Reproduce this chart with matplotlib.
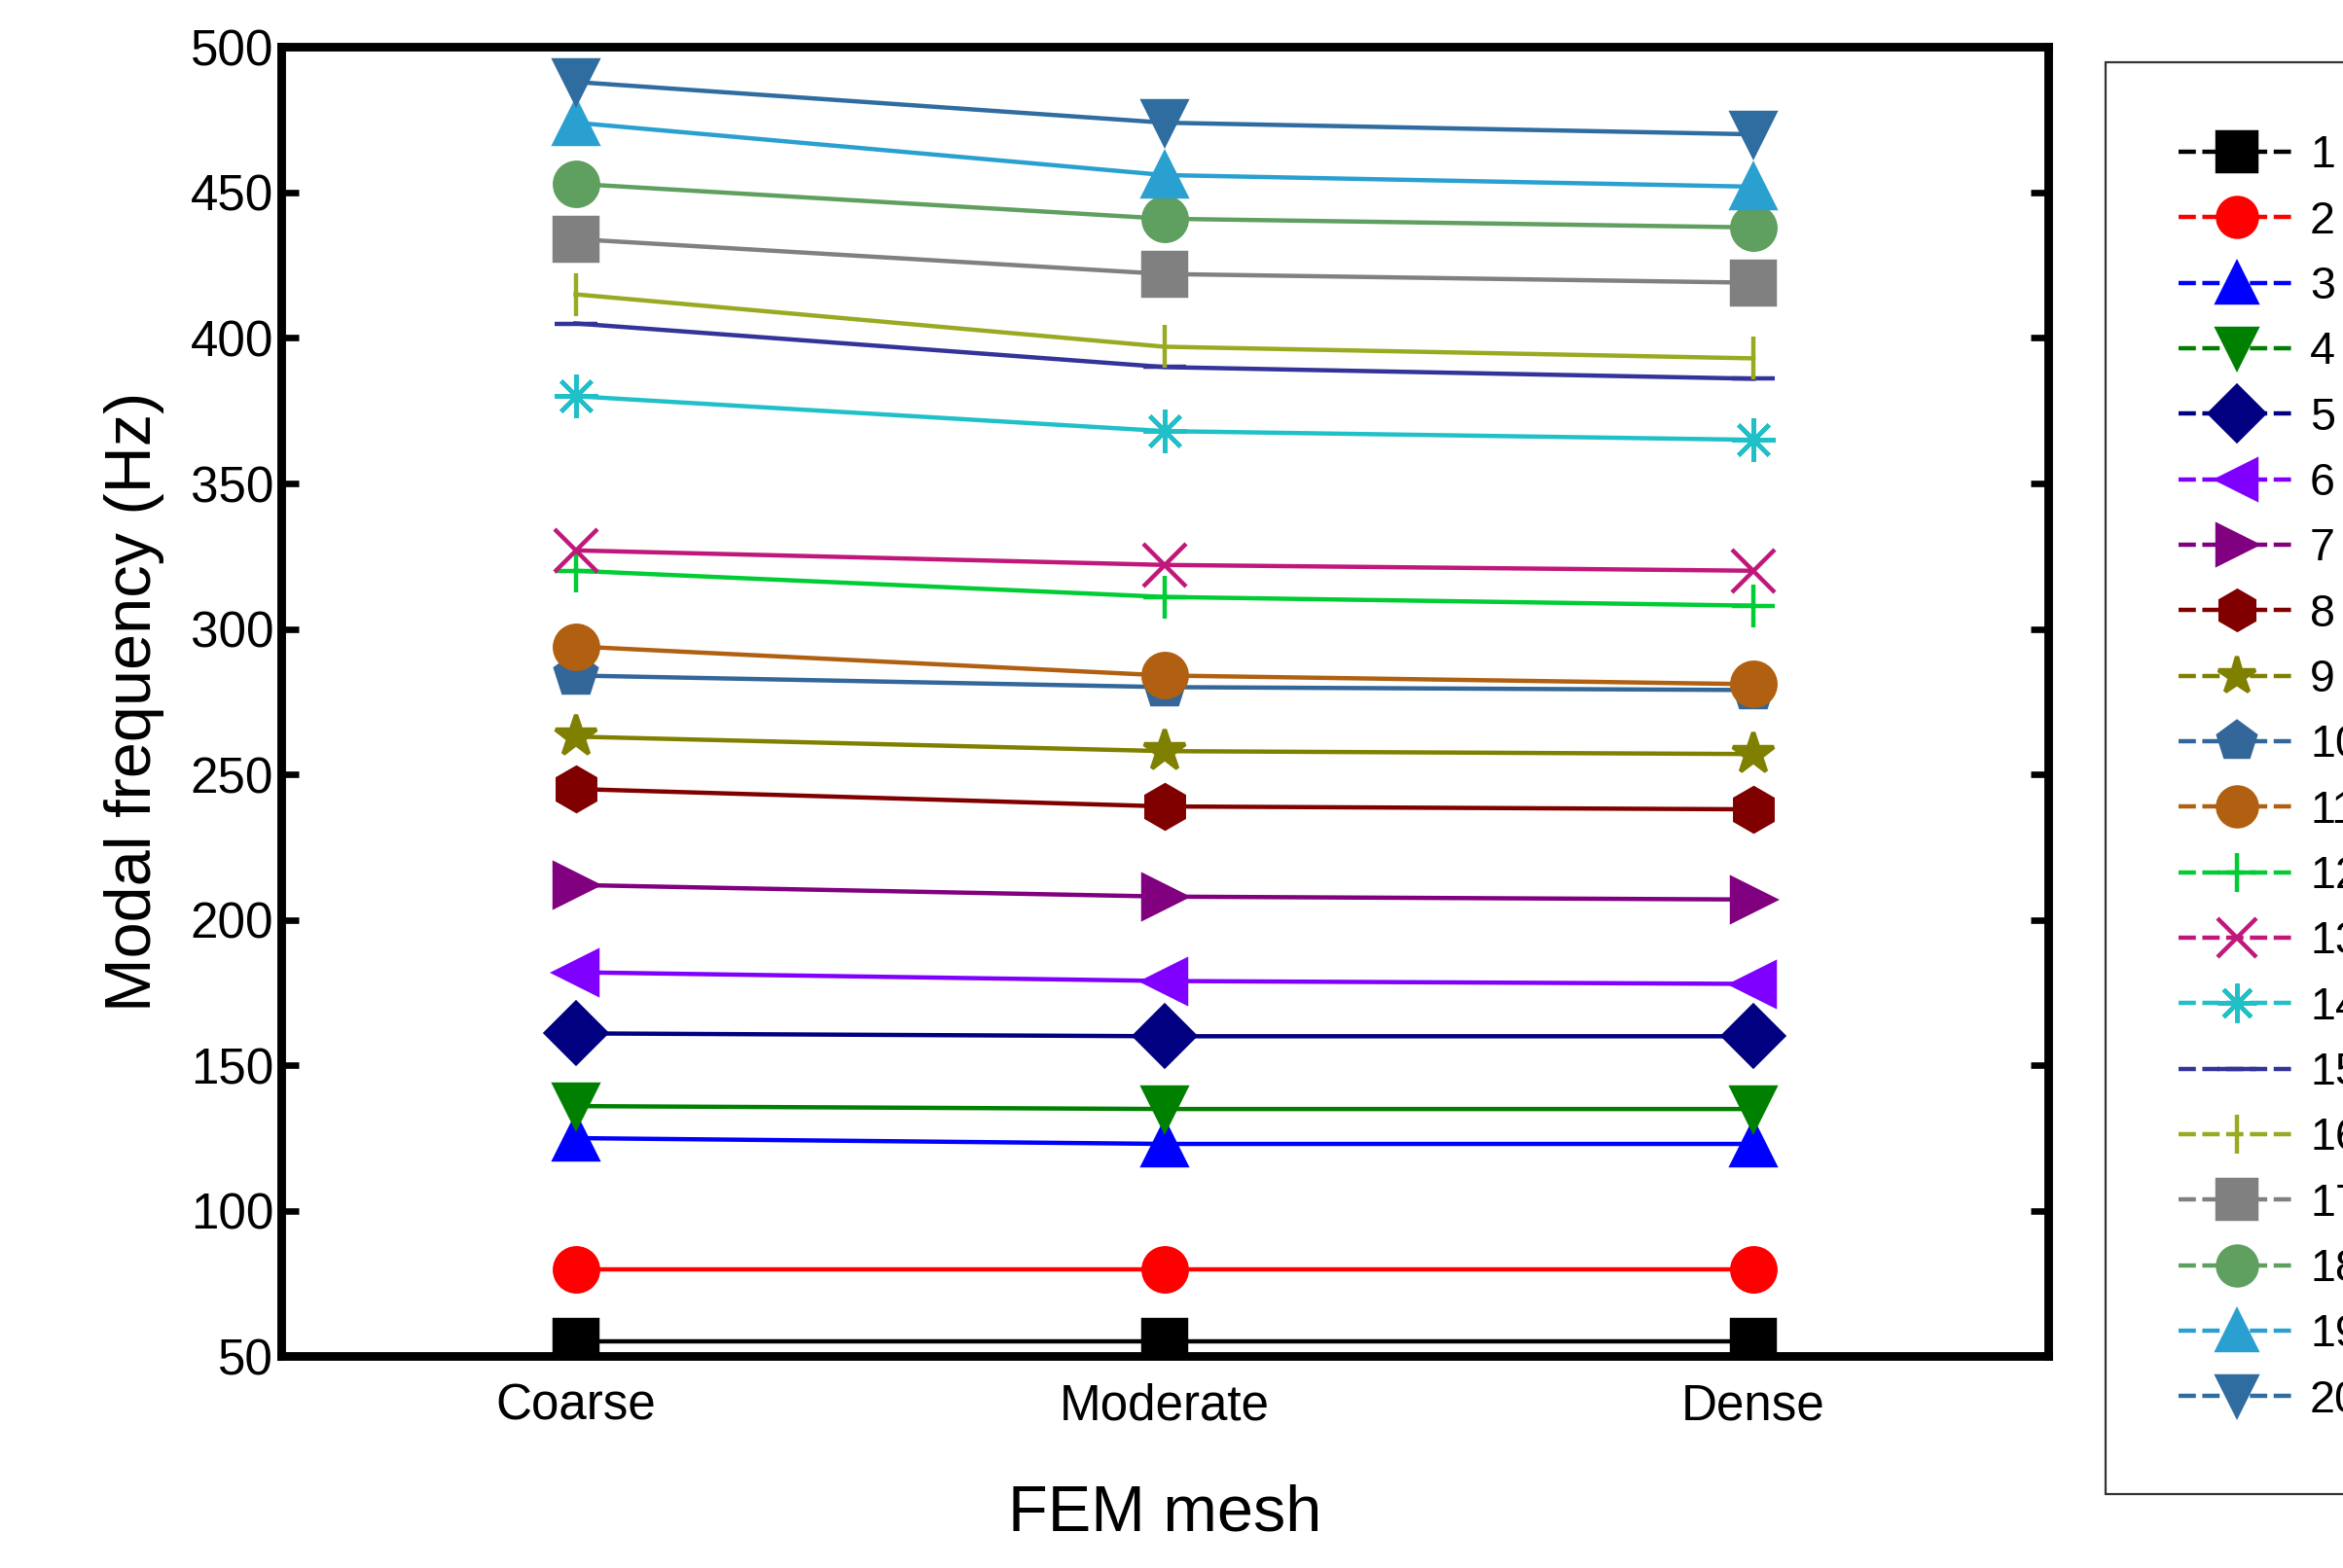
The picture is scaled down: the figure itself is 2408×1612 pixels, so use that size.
import numpy as np
import matplotlib.pyplot as plt
from matplotlib.lines import Line2D

plt.rcParams['font.family'] = ['Liberation Sans', 'DejaVu Sans']

meshes = ["Coarse", "Moderate", "Dense"]

mode_1 = [55, 55, 55]
mode_2 = [80, 80, 80]
mode_3 = [125, 123, 123]
mode_4 = [136, 135, 135]
mode_5 = [161, 160, 160]
mode_6 = [182, 179, 178]
mode_7 = [212, 208, 207]
mode_8 = [245, 239, 238]
mode_9 = [263, 258, 257]
mode_10 = [284, 280, 279]
mode_11 = [294, 284, 281]
mode_12 = [320, 311, 308]
mode_13 = [327, 322, 320]
mode_14 = [380, 368, 365]
mode_15 = [405, 390, 386]
mode_16 = [415, 397, 393]
mode_17 = [434, 422, 419]
mode_18 = [453, 441, 438]
mode_19 = [474, 456, 452]
mode_20 = [488, 474, 470]

modes = [mode_1, mode_2, mode_3, mode_4, mode_5, mode_6, mode_7, mode_8, mode_9, mode_10,
         mode_11, mode_12, mode_13, mode_14, mode_15, mode_16, mode_17, mode_18, mode_19, mode_20]
labels = [str(i) for i in range(1, 21)]

styles = [("s", "black"), ("o", "red"), ("^", "blue"), ("v", "#008000"), ("D", "#000080"),
          ("<", "#8000ff"), (">", "#800080"), ("h", "#800000"), ("*", "#808000"), ("p", "#336699"),
          ("o", "#b06010"), ("+", "#00cc33"), ("x", "#c0187a"), ((8, 2, 0), "#20c0c8"), ("_", "#333399"),
          ("|", "#99aa22"), ("s", "#808080"), ("o", "#5f9f5f"), ("^", "#2aa0d0"), ("v", "#2f6ca0")]

fig = plt.figure(figsize=(15.05, 10.075), dpi=160)
ax = fig.add_axes([0.12, 0.135, 0.754, 0.835])
x = np.arange(len(meshes))

handles = []
for vals, lab, (m, c) in zip(modes, labels, styles):
    ax.plot(x, vals, color=c, lw=2)
    ax.plot(x, vals, ls="none", marker=m, color=c, ms=20, mew=2)
    handles.append(Line2D([0], [0], color=c, lw=2, ls=(0, (4, 1.5)), marker=m, ms=18, mew=2))

ax.set_xlim(-0.5, 2.5)
ax.set_ylim(50, 500)
ax.set_xticks(x)
ax.set_xticklabels(meshes)
ax.set_yticks(np.arange(50, 501, 50))
ax.tick_params(direction="in", length=8, width=3, labelsize=23, right=True, top=False)
ax.tick_params(axis="x", length=0, pad=12)
for s in ax.spines.values():
    s.set_linewidth(4)
ax.set_xlabel("FEM mesh", fontsize=30, labelpad=25)
ax.set_ylabel("Modal frequency (Hz)", fontsize=30, labelpad=12)

fig.legend(handles, labels, loc="upper left", bbox_to_anchor=(0.889, 0.975), fontsize=21,
           frameon=True, fancybox=False, edgecolor="black", handlelength=2.6,
           labelspacing=0.5, borderpad=1.6, handletextpad=0.3)

fig.savefig("out.png")
